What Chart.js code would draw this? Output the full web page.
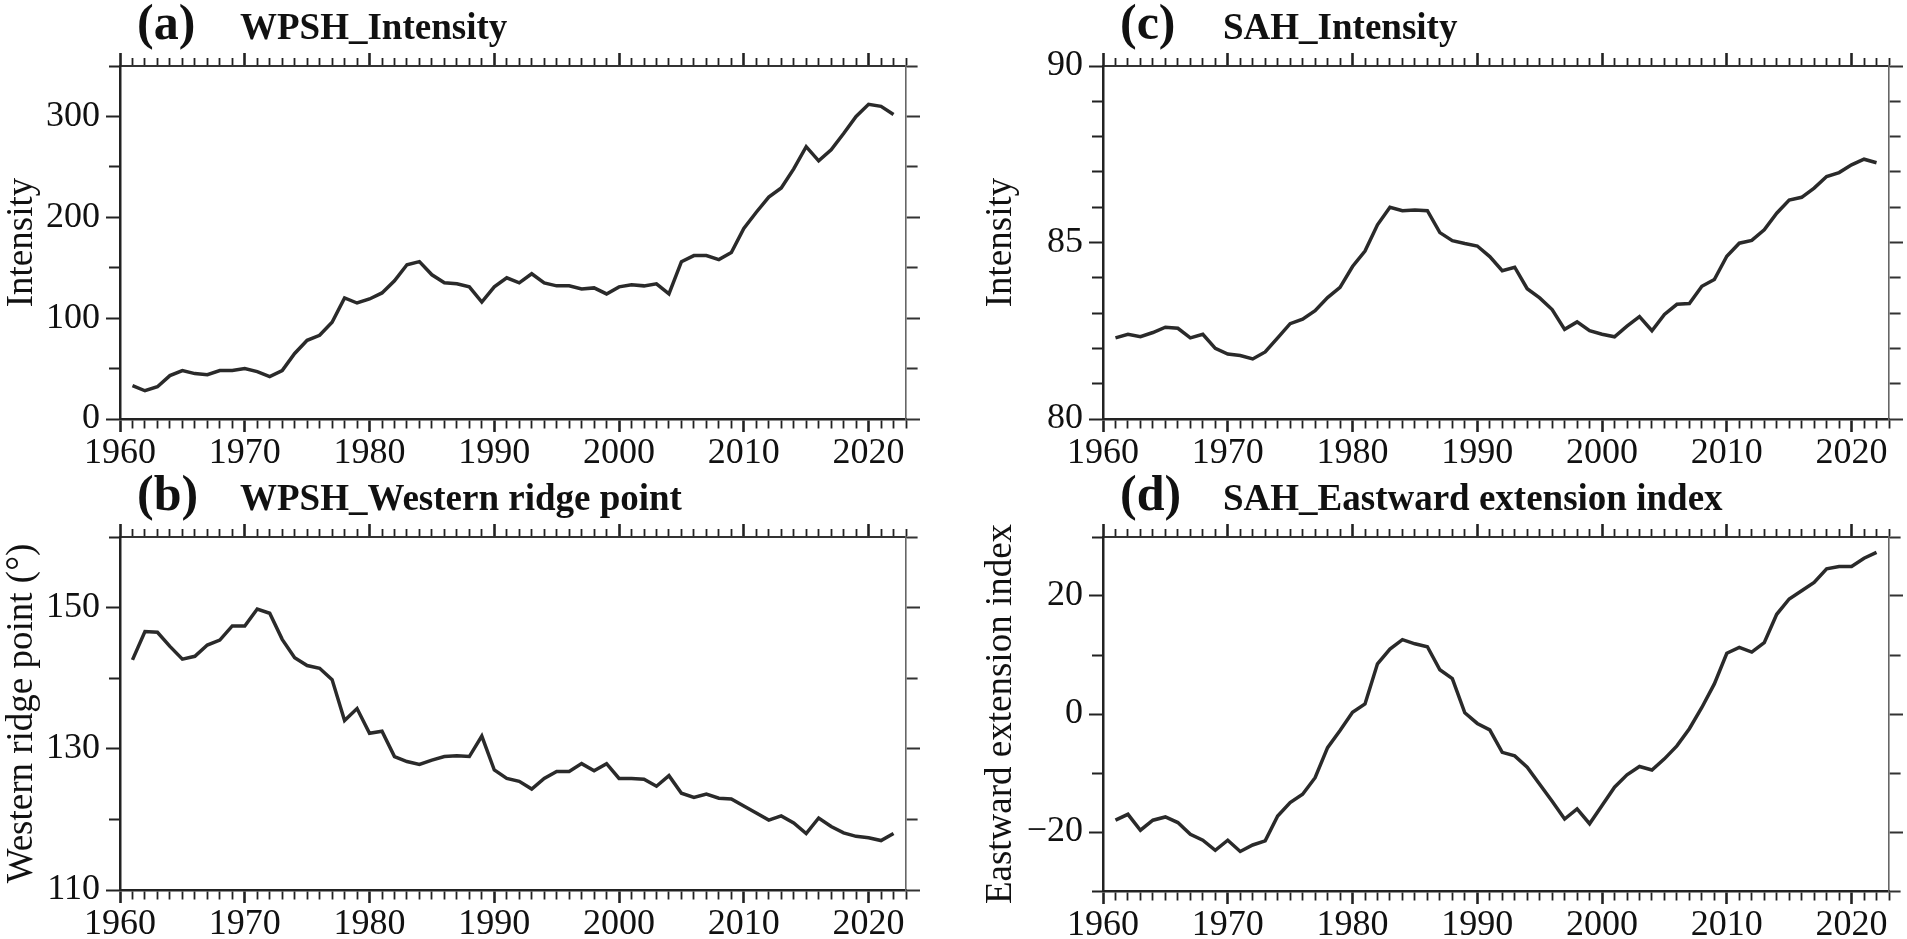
<!DOCTYPE html>
<html>
<head>
<meta charset="utf-8">
<script src="https://cdn.jsdelivr.net/npm/chart.js@4.4.1/dist/chart.umd.min.js"></script>
<style>
html, body { margin: 0; padding: 0; background: #fff; overflow: hidden; }
#wrap { position: relative; width: 1907px; height: 939px; }
.panel { position: absolute; }
</style>
</head>
<body>
<div id="wrap">
  <div class="panel" style="left:0;top:0;width:953px;height:470px"><canvas id="pa"></canvas></div>
  <div class="panel" style="left:0;top:470px;width:953px;height:469px"><canvas id="pb"></canvas></div>
  <div class="panel" style="left:953px;top:0;width:954px;height:470px"><canvas id="pc"></canvas></div>
  <div class="panel" style="left:953px;top:470px;width:954px;height:469px"><canvas id="pd"></canvas></div>
</div>
<script>
// years on the x axis
var years = [1961, 1962, 1963, 1964, 1965, 1966, 1967, 1968, 1969, 1970,
             1971, 1972, 1973, 1974, 1975, 1976, 1977, 1978, 1979, 1980,
             1981, 1982, 1983, 1984, 1985, 1986, 1987, 1988, 1989, 1990,
             1991, 1992, 1993, 1994, 1995, 1996, 1997, 1998, 1999, 2000,
             2001, 2002, 2003, 2004, 2005, 2006, 2007, 2008, 2009, 2010,
             2011, 2012, 2013, 2014, 2015, 2016, 2017, 2018, 2019, 2020,
             2021, 2022];

// (a) WPSH intensity
var wpshIntensity = [33, 28, 32, 43, 48, 45, 44, 48, 48, 50,
                     47, 42, 48, 65, 78, 83, 96, 120, 115, 119,
                     125, 137, 153, 156, 143, 135, 134, 131, 116, 131,
                     140, 135, 144, 135, 132, 132, 129, 130, 124, 131,
                     133, 132, 134, 124, 156, 162, 162, 158, 165, 189,
                     205, 220, 229, 248, 270, 256, 267, 283, 300, 312,
                     310, 302];

// (b) WPSH western ridge point
var wpshWestRidge = [142.6, 146.6, 146.5, 144.5, 142.7, 143.1, 144.7, 145.4, 147.4, 147.4,
                     149.8, 149.2, 145.5, 142.9, 141.8, 141.4, 139.8, 134.0, 135.7, 132.2,
                     132.5, 128.9, 128.2, 127.8, 128.4, 128.9, 129.0, 128.9, 131.8, 127.0,
                     125.8, 125.4, 124.3, 125.8, 126.8, 126.8, 127.9, 126.9, 127.9, 125.8,
                     125.8, 125.7, 124.7, 126.2, 123.7, 123.1, 123.6, 123.0, 122.9, 121.9,
                     120.9, 119.9, 120.5, 119.5, 118.0, 120.2, 119.0, 118.1, 117.6, 117.4,
                     117.0, 118.0];

// (c) SAH intensity
var sahIntensity = [82.3, 82.4, 82.33, 82.45, 82.6, 82.57, 82.3, 82.4, 82.0, 81.84,
                    81.8, 81.7, 81.9, 82.3, 82.7, 82.83, 83.07, 83.44, 83.73, 84.32,
                    84.76, 85.5, 86.0, 85.9, 85.92, 85.9, 85.28, 85.05, 84.97, 84.9,
                    84.6, 84.2, 84.3, 83.69, 83.43, 83.1, 82.54, 82.75, 82.5, 82.4,
                    82.33, 82.63, 82.9, 82.5, 82.96, 83.25, 83.27, 83.76, 83.95, 84.61,
                    84.98, 85.06, 85.36, 85.83, 86.2, 86.28, 86.54, 86.87, 86.98, 87.2,
                    87.36, 87.26];

// (d) SAH eastward extension index
var sahEastExt = [-18.0, -17.0, -19.7, -18.0, -17.45, -18.4, -20.4, -21.4, -23.1, -21.4,
                  -23.3, -22.2, -21.5, -17.3, -15.0, -13.6, -10.8, -5.7, -2.8, 0.3,
                  1.7, 8.5, 11.0, 12.6, 11.9, 11.4, 7.5, 6.0, 0.2, -1.6,
                  -2.7, -6.5, -7.1, -9.0, -11.9, -14.8, -17.8, -16.1, -18.6, -15.5,
                  -12.4, -10.3, -8.9, -9.5, -7.6, -5.4, -2.5, 1.1, 5.1, 10.3,
                  11.3, 10.5, 12.1, 16.9, 19.5, 20.9, 22.3, 24.6, 25.0, 25.0,
                  26.4, 27.4];

// labelled ticks
var yearLabels = [1960, 1970, 1980, 1990, 2000, 2010, 2020];
var aLabels = [0, 100, 200, 300];
var bLabels = [110, 130, 150];
var cLabels = [80, 85, 90];
var dLabels = [-20, 0, 20];

var SERIF = '"Liberation Serif", "Times New Roman", serif';
Chart.defaults.font.family = SERIF;
Chart.defaults.color = '#111';

var panelTitle = {
    id: 'panelTitle',
    afterDraw: function(chart, args, opts) {
        var ca = chart.chartArea;
        var c = chart.ctx;
        c.save();
        c.fillStyle = '#111';
        c.textBaseline = 'alphabetic';
        c.textAlign = 'left';
        c.font = 'bold 50px ' + SERIF;
        c.fillText(opts.letter, ca.left + 17, ca.top - 27);
        c.font = 'bold 37px ' + SERIF;
        c.fillText(opts.name, ca.left + 120, ca.top - 27);
        c.restore();
    }
};

// tick dash: short minor ticks, drawn from the axis outwards
function outerDash(len, minor) {      // tick path starts at the outer end
    return function(ctx) {
        var major = ctx.tick && ctx.tick.major_;
        return major ? [] : [0, len - minor, 100];
    };
}
function innerDash(len, minor) {      // tick path starts at the axis
    return function(ctx) {
        var major = ctx.tick && ctx.tick.major_;
        return major ? [] : [minor, 100];
    };
}

function show_panel(id_canvas, values, yMin, yMax, yStep, yLabels, letter, name, yTitle, leftW, rightW, topH, bottomH, titlePad) {
    var isMajorY = function(v) { return yLabels.indexOf(v) >= 0; };
    var isMajorX = function(v) { return yearLabels.indexOf(v) >= 0; };
    var markY = function(scale) { scale.ticks.forEach(function(t) { t.major_ = isMajorY(t.value); }); };
    var markX = function(scale) { scale.ticks.forEach(function(t) { t.major_ = isMajorX(t.value); }); };
    var points = years.map(function(y, i) { return {x: y, y: values[i]}; });
    var ctx = document.getElementById(id_canvas).getContext('2d');
    var myChart = new Chart(ctx, {
        type: 'line',
        data: {
            datasets: [{
                data: points,
                borderColor: '#2a2a2a',
                borderWidth: 3.5,
                pointRadius: 0,
                tension: 0,
                fill: false,
                xAxisID: 'x',
                yAxisID: 'y'
            }]
        },
        plugins: [panelTitle],
        options: {
            responsive: true,
            maintainAspectRatio: false,
            animation: false,
            devicePixelRatio: 1,
            layout: { padding: 0 },
            scales: {
                x: {
                    type: 'linear', position: 'bottom', min: 1960, max: 2023,
                    afterFit: function(s) { s.height = bottomH; },
                    afterBuildTicks: markX,
                    ticks: {
                        stepSize: 1, autoSkip: false, maxRotation: 0, minRotation: 0, padding: 0,
                        font: { family: SERIF, size: 36 }, color: '#111',
                        callback: function(v) { return isMajorX(v) ? String(v) : ''; }
                    },
                    grid: {
                        drawOnChartArea: false, drawTicks: true, tickLength: 13, tickColor: '#222',
                        tickWidth: function(c) { return c.tick && c.tick.major_ ? 2.6 : 1.8; },
                        tickBorderDash: innerDash(13, 8)
                    },
                    border: { display: true, color: '#222', width: 2.5 }
                },
                xTop: {
                    type: 'linear', position: 'top', min: 1960, max: 2023,
                    afterFit: function(s) { s.height = topH; },
                    afterBuildTicks: markX,
                    ticks: { stepSize: 1, autoSkip: false, display: false },
                    grid: {
                        drawOnChartArea: false, drawTicks: true, tickLength: 13, tickColor: '#222',
                        tickWidth: function(c) { return c.tick && c.tick.major_ ? 2.6 : 1.8; },
                        tickBorderDash: outerDash(13, 8)
                    },
                    border: { display: true, color: '#333', width: 2 }
                },
                y: {
                    type: 'linear', position: 'left', min: yMin, max: yMax,
                    afterFit: function(s) { s.width = leftW; },
                    afterBuildTicks: markY,
                    ticks: {
                        stepSize: yStep, autoSkip: false, padding: 6,
                        font: { family: SERIF, size: 36 }, color: '#111',
                        callback: function(v) { return isMajorY(v) ? String(v).replace('-', '\u2212') : ''; }
                    },
                    grid: {
                        drawOnChartArea: false, drawTicks: true, tickLength: 14, tickColor: '#222',
                        tickWidth: 2,
                        tickBorderDash: outerDash(14, 11)
                    },
                    border: { display: true, color: '#222', width: 2.5 },
                    title: {
                        display: true, text: yTitle, color: '#111',
                        font: { family: SERIF, size: 37 }, padding: { top: titlePad, bottom: 0 }
                    }
                },
                yRight: {
                    type: 'linear', position: 'right', min: yMin, max: yMax,
                    afterFit: function(s) { s.width = rightW; },
                    afterBuildTicks: markY,
                    ticks: { stepSize: yStep, autoSkip: false, display: false },
                    grid: {
                        drawOnChartArea: false, drawTicks: true, tickLength: 14, tickColor: '#333',
                        tickWidth: 2,
                        tickBorderDash: innerDash(14, 11)
                    },
                    border: { display: true, color: '#666', width: 1.6 }
                }
            },
            plugins: {
                legend: { display: false },
                tooltip: { enabled: false },
                panelTitle: { letter: letter, name: name }
            }
        }
    });
    return myChart;
}

show_panel('pa', wpshIntensity, 0, 350, 50, aLabels, '(a)', 'WPSH_Intensity', 'Intensity', 120, 47, 66, 51, 0);
show_panel('pb', wpshWestRidge, 110, 160, 10, bLabels, '(b)', 'WPSH_Western ridge point', 'Western ridge point (\u00B0)', 120, 47, 67, 49, 0);
show_panel('pc', sahIntensity, 80, 90, 1, cLabels, '(c)', 'SAH_Intensity', 'Intensity', 150, 18, 66, 51, 26);
show_panel('pd', sahEastExt, -30, 30, 10, dLabels, '(d)', 'SAH_Eastward extension index', 'Eastward extension index', 150, 18, 67, 48, 26);
</script>
</body>
</html>
